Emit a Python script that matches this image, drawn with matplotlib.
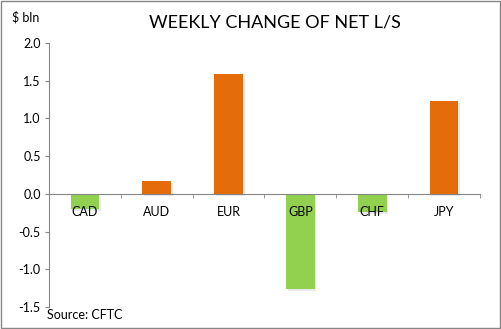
import matplotlib.pyplot as plt
import matplotlib.patheffects as pe
import numpy as np

currencies = ['CAD', 'AUD', 'EUR', 'GBP', 'CHF', 'JPY']
changes = [-0.20, 0.17, 1.59, -1.26, -0.24, 1.23]
y_ticks = [-1.5, -1.0, -0.5, 0.0, 0.5, 1.0, 1.5, 2.0]

ORANGE = '#E46C0A'
GREEN = '#92D050'

plt.rcParams['font.family'] = ['Lato', 'DejaVu Sans']

fig = plt.figure(figsize=(5.02, 3.29), dpi=100)
ax = fig.add_axes([49 / 502, 22 / 329, 431 / 502, 264 / 329])
ax.set_axisbelow(False)

x = np.arange(len(currencies))
colors = [ORANGE if v > 0 else GREEN for v in changes]
bars = ax.bar(x, changes, width=0.4, color=colors, zorder=1)
for b in bars:
    b.set_path_effects([pe.SimplePatchShadow(offset=(1.2, -1.2), shadow_rgbFace='#aaaaaa', alpha=0.25),
                        pe.Normal()])

ax.set_xlim(-0.5, len(currencies) - 0.5)
ax.set_ylim(-1.5, 2.0)
ax.set_yticks(y_ticks)
ax.set_yticklabels([f'{t:.1f}' for t in y_ticks], fontsize=9)

ax.spines['bottom'].set_position(('data', 0))
ax.spines['top'].set_visible(False)
ax.spines['right'].set_visible(False)
for s in ['left', 'bottom']:
    ax.spines[s].set_color('#868686')
    ax.spines[s].set_linewidth(0.8)

ax.set_xticks(x)
ax.set_xticklabels(currencies, fontsize=9)
ax.tick_params(axis='x', which='major', length=0, pad=9)
ax.set_xticks(np.arange(len(currencies) + 1) - 0.5, minor=True)
ax.tick_params(axis='x', which='minor', length=3, color='#868686', direction='out')
ax.tick_params(axis='y', length=3, color='#868686', direction='out', pad=3)

fig.text(275 / 502, 1 - 22 / 329, 'WEEKLY CHANGE OF NET L/S', ha='center', va='center', fontsize=13)
fig.text(12 / 502, 1 - 17 / 329, '$ bln', ha='left', va='center', fontsize=9)
fig.text(47 / 502, 1 - 315 / 329, 'Source: CFTC', ha='left', va='center', fontsize=9)

fig.patches.append(plt.Rectangle((0.002, 0.003), 0.994, 0.993, transform=fig.transFigure,
                                 fill=False, edgecolor='#868686', linewidth=1))

fig.savefig('out.png', dpi=100)
